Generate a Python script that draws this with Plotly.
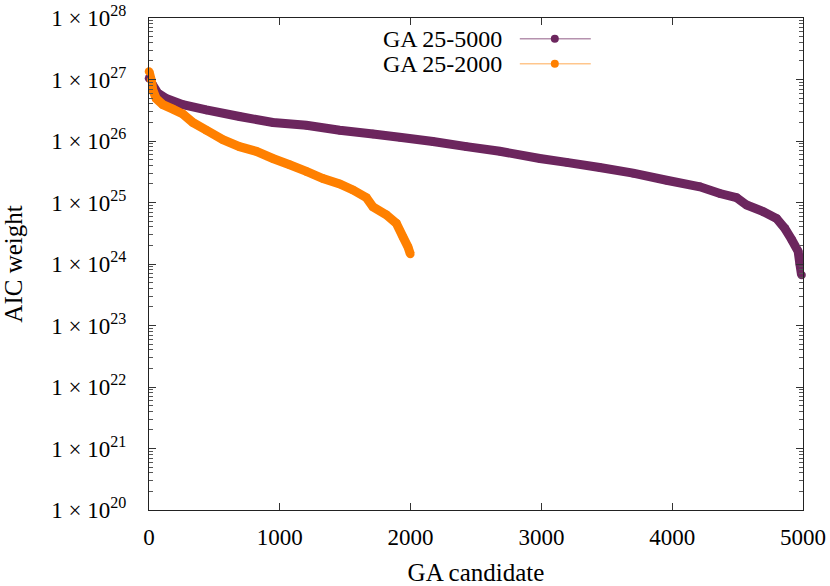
import plotly.graph_objects as go

# GA 25-5000 run: candidate index vs AIC weight
ga5000_x = [0, 29, 67, 132, 259, 438, 692, 947, 1203, 1458, 1712, 1916, 2171,
            2427, 2682, 2988, 3192, 3446, 3701, 3957, 4212, 4365, 4492, 4569,
            4696, 4798, 4861, 4913, 4963, 4976, 4989]
ga5000_y = [1.05e27, 8.1e26, 6.0e26, 4.9e26, 3.9e26, 3.2e26, 2.5e26, 2.0e26,
            1.8e26, 1.5e26, 1.3e26, 1.15e26, 9.8e25, 8.1e25, 6.8e25, 5.2e25,
            4.5e25, 3.7e25, 3.0e25, 2.3e25, 1.8e25, 1.4e25, 1.2e25, 9.1e24,
            7.1e24, 5.5e24, 3.8e24, 2.5e24, 1.6e24, 1.0e24, 6.6e23]

# GA 25-2000 run
ga2000_x = [0, 17, 29, 55, 106, 182, 259, 335, 438, 565, 692, 820, 947, 1075,
            1203, 1330, 1458, 1559, 1662, 1712, 1815, 1891, 1942, 1980, 1998]
ga2000_y = [1.35e27, 9.8e26, 6.8e26, 4.9e26, 3.9e26, 3.3e26, 2.75e26, 2.0e26,
            1.5e26, 1.05e26, 8.1e25, 6.8e25, 5.2e25, 4.1e25, 3.2e25, 2.45e25,
            2.0e25, 1.6e25, 1.2e25, 8.5e24, 6.3e24, 4.6e24, 2.75e24, 1.9e24,
            1.45e24]

series_names = ["GA 25-5000", "GA 25-2000"]
series_colors = ["#6c265e", "#ff8000"]
legend_line_colors = ["rgba(108,38,94,0.5)", "rgba(255,128,0,0.45)"]

x_ticks = [0, 1000, 2000, 3000, 4000, 5000]
y_exponents = list(range(20, 29))
y_ticks = [10.0 ** e for e in y_exponents]
y_ticktext = ["1 × 10<sup>%d</sup>" % e for e in y_exponents]
y_minor = [k * 10.0 ** e for e in range(20, 28) for k in range(2, 10)]

FONT = "Liberation Serif"
FS = 24

fig = go.Figure()
for xs, ys, name, color in zip([ga5000_x, ga2000_x], [ga5000_y, ga2000_y],
                               series_names, series_colors):
    fig.add_trace(go.Scatter(x=xs, y=ys, mode="lines+markers", name=name,
                             line=dict(color=color, width=9, simplify=False),
                             marker=dict(color=color, size=8.5),
                             cliponaxis=False, showlegend=False))

fig.update_xaxes(range=[0, 5000], tickmode="array", tickvals=x_ticks,
                 ticks="inside", ticklen=7, tickcolor="#333",
                 showline=True, linecolor="#222", linewidth=1, mirror="ticks",
                 showgrid=False, zeroline=False, automargin=False,
                 tickfont=dict(size=FS - 1), ticklabelstandoff=6,
                 title=dict(text="GA candidate", standoff=14, font=dict(size=FS + 1)))
fig.update_yaxes(type="log", range=[20, 28], tickmode="array",
                 tickvals=y_ticks, ticktext=y_ticktext,
                 ticks="inside", ticklen=7, tickcolor="#333",
                 minor=dict(tickmode="array", tickvals=y_minor, ticks="inside",
                            ticklen=4, tickcolor="#555"),
                 showline=True, linecolor="#222", linewidth=1, mirror="ticks",
                 showgrid=False, zeroline=False, automargin=False,
                 tickfont=dict(size=FS - 1), ticklabelstandoff=17,
                 title=dict(text="AIC weight", standoff=25, font=dict(size=FS + 1)))

# gnuplot-style key: text on the left, sample on the right
shapes = []
annotations = []
rows_y = [0.958, 0.907]
for name, color, lcolor, ry in zip(series_names, series_colors,
                                   legend_line_colors, rows_y):
    shapes.append(dict(type="line", xref="paper", yref="paper",
                       x0=0.567, x1=0.6755, y0=ry, y1=ry,
                       line=dict(color=lcolor, width=1.5)))
    shapes.append(dict(type="circle", xref="paper", yref="paper",
                       xsizemode="pixel", ysizemode="pixel",
                       xanchor=0.6205, yanchor=ry, x0=-4, x1=4, y0=-4, y1=4,
                       fillcolor=color, line=dict(color=color, width=0)))
    annotations.append(dict(text=name, xref="paper", yref="paper",
                            x=0.5425, y=ry, xanchor="right", yanchor="middle",
                            showarrow=False, font=dict(size=FS)))

fig.update_layout(width=830, height=586,
                  margin=dict(l=149, r=27, t=18, b=76),
                  paper_bgcolor="white", plot_bgcolor="white",
                  font=dict(family=FONT, size=FS, color="black"),
                  shapes=shapes, annotations=annotations)

# drop the page's default body margin so the figure sits at the window origin
fig.write_html("out.html", config={"displayModeBar": False},
               post_script="document.body.style.margin='0';"
                           "document.body.style.overflow='hidden';")
